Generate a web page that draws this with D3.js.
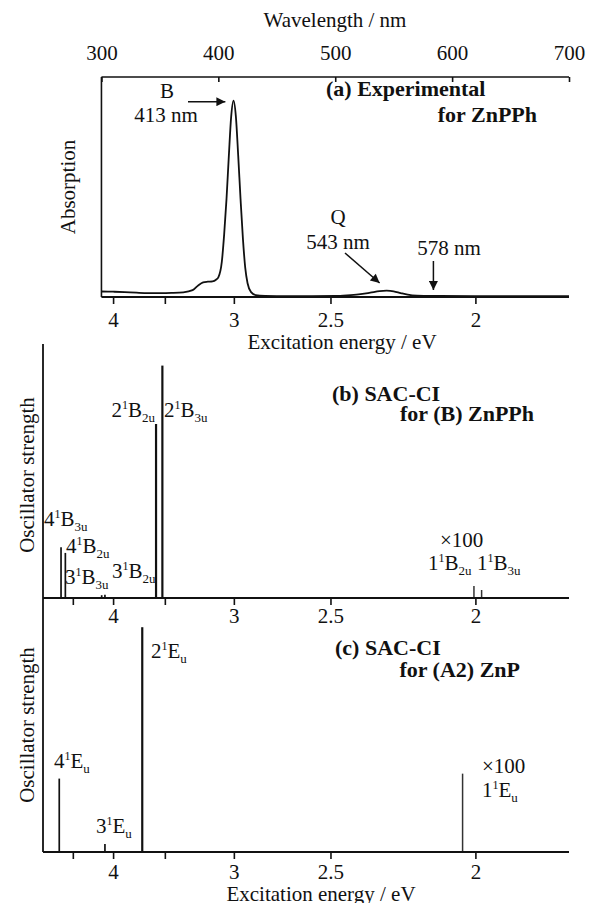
<!DOCTYPE html>
<html>
<head>
<meta charset="utf-8">
<script src="https://cdn.jsdelivr.net/npm/d3@7/dist/d3.min.js"></script>
<style>
  html, body { margin: 0; padding: 0; background: #fff; }
  svg { display: block; }
  text { font-family: "Liberation Serif", "Times New Roman", "DejaVu Serif", serif; fill: #111; }
</style>
</head>
<body>
<svg id="chart" width="589" height="903"></svg>
<script>
// ---------------- DATA ----------------
const HC = 1239.84; // eV·nm
const ENERGY_TICKS = [4.5, 4, 3.5, 3, 2.5, 2];
const ENERGY_TICK_LABELS = ["", "4", "", "3", "2.5", "2"];
const WAVELENGTH_TICKS = [300, 400, 500, 600, 700];

// (a) experimental absorption of ZnPPh (wavelength nm, relative absorbance)
const absWavelength = [300, 310, 320, 330, 340, 350, 360, 370, 378, 383, 387, 391, 395, 398, 400, 403, 405, 407, 409, 411, 413, 415, 417, 419, 421, 423, 425, 428, 432, 440, 460, 480, 500, 510, 520, 530, 538, 544, 550, 556, 562, 570, 578, 590, 620, 660, 700];
const absValue      = [0.028, 0.027, 0.025, 0.022, 0.020, 0.020, 0.021, 0.024, 0.035, 0.060, 0.074, 0.078, 0.080, 0.088, 0.100, 0.180, 0.320, 0.500, 0.720, 0.920, 1.000, 0.920, 0.720, 0.500, 0.300, 0.150, 0.070, 0.025, 0.010, 0.006, 0.004, 0.004, 0.005, 0.008, 0.013, 0.022, 0.030, 0.032, 0.029, 0.020, 0.012, 0.007, 0.006, 0.005, 0.004, 0.004, 0.004];

// (b) SAC-CI for (B) ZnPPh : excitation energy (eV), oscillator strength, display magnification
const bState    = ["4B3u", "4B2u", "3B3u", "3B2u", "2B2u", "2B3u", "1B2u", "1B3u"];
const bEnergy   = [4.671, 4.607, 4.130, 4.092, 3.576, 3.521, 2.004, 1.983];
const bStrength = [0.40, 0.355, 0.022, 0.025, 1.37, 1.83, 0.00094, 0.00063];
const bFactor   = [1, 1, 1, 1, 1, 1, 100, 100];

// (c) SAC-CI for (A2) ZnP
const cState    = ["4Eu", "3Eu", "2Eu", "1Eu"];
const cEnergy   = [4.698, 4.092, 3.702, 2.036];
const cStrength = [0.578, 0.063, 1.77, 0.00617];
const cFactor   = [1, 1, 1, 100];

// ---------------- LAYOUT ----------------
const svg = d3.select("#chart");
const X0 = 43, X1 = 569;
const x = d3.scaleLinear().domain([250, 700]).range([X0, X1]);   // linear in wavelength
const xE = e => x(HC / e);

const A = { left: x(300), top: 77, bottom: 297 };
const B = { top: 344, bottom: 598 };
const C = { top: 598, bottom: 852 };

const yA = d3.scaleLinear().domain([0, 1]).range([A.bottom, 100.7]);
const yB = d3.scaleLinear().domain([0, 2]).range([B.bottom, B.bottom - 254]);
const yC = d3.scaleLinear().domain([0, 2]).range([C.bottom, C.bottom - 254]);

const FS = 21;
const FSB = 22;

// energy axis (ticks at energies, placed through the wavelength scale)
function energyAxis(yPos, minLambda, pad) {
  const ticks = ENERGY_TICKS.map((e, i) => ({ e, lab: ENERGY_TICK_LABELS[i] }))
                            .filter(t => HC / t.e >= minLambda);
  const axis = d3.axisBottom(x)
    .tickValues(ticks.map(t => HC / t.e))
    .tickFormat((d, i) => ticks[i].lab)
    .tickSizeInner(7).tickSizeOuter(0).tickPadding(pad);
  const g = svg.append("g").attr("transform", `translate(0,${yPos})`).call(axis);
  g.select(".domain").remove();
  g.selectAll(".tick line").attr("stroke", "#111").attr("stroke-width", 1.6);
  g.selectAll(".tick text").attr("font-size", FS).attr("font-family", "Liberation Serif").attr("fill", "#111");
  svg.append("line").attr("x1", x(minLambda)).attr("x2", X1).attr("y1", yPos).attr("y2", yPos)
     .attr("stroke", "#111").attr("stroke-width", 2);
  return g;
}

// ---------- Panel (a) ----------
const topAxis = d3.axisTop(x).tickValues(WAVELENGTH_TICKS).tickFormat(d3.format("d"))
  .tickSizeInner(-5).tickSizeOuter(0).tickPadding(17);
const gTop = svg.append("g").attr("transform", `translate(0,${A.top})`).call(topAxis);
gTop.select(".domain").remove();
gTop.selectAll(".tick line").attr("stroke", "#111").attr("stroke-width", 1.6);
gTop.selectAll(".tick text").attr("font-size", FS).attr("font-family", "Liberation Serif").attr("fill", "#111");
svg.append("line").attr("x1", A.left).attr("x2", X1).attr("y1", A.top).attr("y2", A.top)
   .attr("stroke", "#111").attr("stroke-width", 1.6);
svg.append("line").attr("x1", A.left).attr("x2", A.left).attr("y1", A.top).attr("y2", A.bottom)
   .attr("stroke", "#111").attr("stroke-width", 1.6);
svg.append("text").attr("x", 335).attr("y", 27).attr("text-anchor", "middle")
   .attr("font-size", FS).text("Wavelength / nm");

energyAxis(A.bottom, 300, 8);
svg.append("text").attr("x", 342).attr("y", 349).attr("text-anchor", "middle")
   .attr("font-size", FS).text("Excitation energy / eV");
svg.append("text").attr("transform", `translate(75,${(A.top + A.bottom) / 2}) rotate(-90)`)
   .attr("text-anchor", "middle").attr("font-size", FS).text("Absorption");

const absData = absWavelength.map((w, i) => [w, absValue[i]]);
svg.append("path").datum(absData)
   .attr("d", d3.line().x(d => x(d[0])).y(d => yA(d[1])).curve(d3.curveMonotoneX))
   .attr("fill", "none").attr("stroke", "#111").attr("stroke-width", 1.8);

const defs = svg.append("defs");
defs.append("marker").attr("id", "ah").attr("viewBox", "0 0 10 10").attr("refX", 10).attr("refY", 5)
  .attr("markerWidth", 11).attr("markerHeight", 9).attr("markerUnits", "userSpaceOnUse").attr("orient", "auto")
  .append("path").attr("d", "M0,0 L10,5 L0,10 z").attr("fill", "#111");

function arrow(x1, y1, x2, y2) {
  svg.append("line").attr("x1", x1).attr("y1", y1).attr("x2", x2).attr("y2", y2)
     .attr("stroke", "#111").attr("stroke-width", 1.5).attr("marker-end", "url(#ah)");
}
function txt(xp, yp, s, opts = {}) {
  return svg.append("text").attr("x", xp).attr("y", yp).attr("font-size", opts.size || FS)
    .attr("text-anchor", opts.anchor || "start").attr("font-weight", opts.bold ? "bold" : "normal").text(s);
}

txt(167, 98, "B", { anchor: "middle" });
txt(166, 122, "413 nm", { anchor: "middle" });
arrow(188, 101.7, x(406), 101.7);
txt(338, 224, "Q", { anchor: "middle" });
txt(338, 249, "543 nm", { anchor: "middle" });
arrow(345, 253, x(538), 283);
txt(449, 255, "578 nm", { anchor: "middle" });
arrow(x(584), 261, x(584), 290);

txt(326, 96, "(a) Experimental", { bold: true, size: FSB });
txt(537, 122, "for ZnPPh", { bold: true, anchor: "end", size: FSB });

// ---------- state labels ----------
function stateLabel(xp, yp, num, sym, sub, anchor) {
  const t = svg.append("text").attr("x", xp).attr("y", yp).attr("font-size", FS)
    .attr("text-anchor", anchor || "start");
  t.append("tspan").text(num);
  t.append("tspan").attr("font-size", 12).attr("dy", -8).text("1");
  t.append("tspan").attr("font-size", FS).attr("dy", 8).text(sym);
  t.append("tspan").attr("font-size", 13).attr("dy", 5).text(sub);
  return t;
}

function sticks(energy, strength, factor, yScale) {
  energy.forEach((e, i) => {
    const v = strength[i] * factor[i];
    svg.append("line").attr("x1", xE(e)).attr("x2", xE(e))
       .attr("y1", yScale(0)).attr("y2", yScale(v))
       .attr("stroke", factor[i] > 1 ? "#333" : "#111")
       .attr("stroke-width", v > 1 ? 2.2 : (factor[i] > 1 ? 1.5 : 1.7));
  });
}

// ---------- Panel (b) ----------
svg.append("line").attr("x1", X0).attr("x2", X0).attr("y1", B.top).attr("y2", B.bottom)
   .attr("stroke", "#111").attr("stroke-width", 1.8);
sticks(bEnergy, bStrength, bFactor, yB);
energyAxis(B.bottom, 250, 3);
svg.append("text").attr("transform", `translate(34,${(B.top + B.bottom) / 2 + 4}) rotate(-90)`)
   .attr("text-anchor", "middle").attr("font-size", FS).text("Oscillator strength");

txt(332, 401, "(b) SAC-CI", { bold: true, size: FSB });
txt(534, 421, "for (B) ZnPPh", { bold: true, anchor: "end", size: FSB });
stateLabel(155, 417, "2", "B", "2u", "end");
stateLabel(164, 417, "2", "B", "3u");
stateLabel(44, 526, "4", "B", "3u");
stateLabel(66, 553, "4", "B", "2u");
stateLabel(65, 584, "3", "B", "3u");
stateLabel(112, 578, "3", "B", "2u");
txt(440, 547, "\u00d7100");
stateLabel(428, 570, "1", "B", "2u");
stateLabel(477, 570, "1", "B", "3u");

// ---------- Panel (c) ----------
svg.append("line").attr("x1", X0).attr("x2", X0).attr("y1", C.top).attr("y2", C.bottom)
   .attr("stroke", "#111").attr("stroke-width", 1.8);
sticks(cEnergy, cStrength, cFactor, yC);
energyAxis(C.bottom, 250, 5);
svg.append("text").attr("transform", `translate(34,${(C.top + C.bottom) / 2}) rotate(-90)`)
   .attr("text-anchor", "middle").attr("font-size", FS).text("Oscillator strength");
svg.append("text").attr("x", 321).attr("y", 901).attr("text-anchor", "middle")
   .attr("font-size", FS).text("Excitation energy / eV");

txt(335, 655, "(c) SAC-CI", { bold: true, size: FSB });
txt(520, 677, "for (A2) ZnP", { bold: true, anchor: "end", size: FSB });
stateLabel(151, 658, "2", "E", "u");
stateLabel(54, 768, "4", "E", "u");
stateLabel(96, 833, "3", "E", "u");
txt(482, 773, "\u00d7100");
stateLabel(482, 797, "1", "E", "u");
</script>
</body>
</html>
